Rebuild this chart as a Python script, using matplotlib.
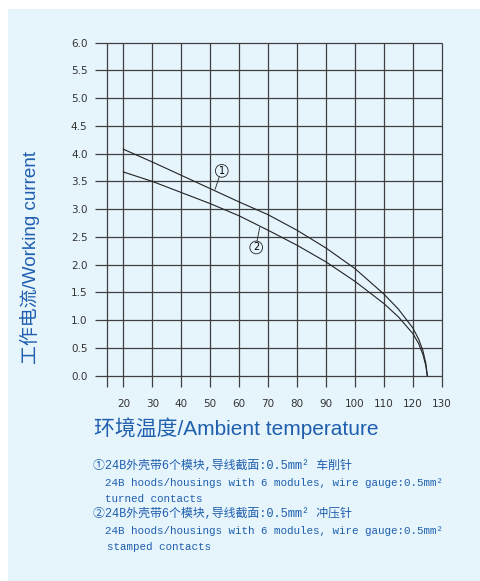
import matplotlib
matplotlib.use("Agg")
import matplotlib.pyplot as plt
from matplotlib.patches import Rectangle

# data
temp1 = [20, 30, 40, 50, 60, 70, 80, 90, 100, 110, 115, 120, 122, 123.5, 124.5, 125]
curr1 = [4.08, 3.85, 3.61, 3.37, 3.13, 2.90, 2.62, 2.30, 1.93, 1.47, 1.20, 0.86, 0.66, 0.45, 0.22, 0.0]
temp2 = [20, 30, 40, 50, 60, 70, 80, 90, 100, 110, 115, 120, 122, 123.5, 124.5, 125]
curr2 = [3.67, 3.50, 3.30, 3.10, 2.88, 2.62, 2.35, 2.05, 1.70, 1.30, 1.06, 0.76, 0.58, 0.38, 0.18, 0.0]

xticks = [20, 30, 40, 50, 60, 70, 80, 90, 100, 110, 120, 130]
yticks = [0.0, 0.5, 1.0, 1.5, 2.0, 2.5, 3.0, 3.5, 4.0, 4.5, 5.0, 5.5, 6.0]

blue = "#1f5fae"
grid_c = "#404040"
cjk = ["Liberation Sans", "Noto Sans CJK SC"]
mono = ["Liberation Mono", "Noto Sans CJK SC"]

fig = plt.figure(figsize=(4.81, 5.81), dpi=100)
fig.patches.append(Rectangle((8 / 481, 0), 1 - 8 / 481, 1 - 9 / 581,
                             transform=fig.transFigure, fc="#e6f4fc", ec="none", zorder=-5))

ax = fig.add_axes([0.1963, 0.3343, 0.7221, 0.5923])
ax.set_facecolor("none")
ax.set_xlim(10, 130)
ax.set_ylim(-0.2, 6.0)
for s in ax.spines.values():
    s.set_visible(False)

# grid
ax.hlines(yticks, 10.2, 130, color=grid_c, lw=0.9, clip_on=False)
ax.vlines([14.3] + xticks, -0.2, 6.0, color=grid_c, lw=0.9, clip_on=False)

# curves
ax.plot(temp1, curr1, color="#222222", lw=0.8)
ax.plot(temp2, curr2, color="#222222", lw=0.8)

# curve markers
ax.plot([53.2, 51.7], [3.59, 3.36], color="#222222", lw=0.6)
ax.text(54.0, 3.69, "1", fontsize=7, ha="center", va="center",
        bbox=dict(boxstyle="circle,pad=0.14", fc="#e6f4fc", ec="#222222", lw=0.6))
ax.plot([66.1, 67.1], [2.40, 2.67], color="#222222", lw=0.6)
ax.text(65.9, 2.31, "2", fontsize=7, ha="center", va="center",
        bbox=dict(boxstyle="circle,pad=0.14", fc="#e6f4fc", ec="#222222", lw=0.6))

ax.set_xticks(xticks)
ax.set_xticklabels([str(t) for t in xticks])
ax.set_yticks(yticks)
ax.set_yticklabels(["%.1f" % t for t in yticks])
ax.tick_params(length=0, labelsize=7.5, labelcolor="#333333")
ax.tick_params(axis="x", pad=9)
ax.tick_params(axis="y", pad=5)

fig.text(94 / 481, 1 - 428 / 581, "环境温度/Ambient temperature", fontsize=15,
         color=blue, family=cjk, ha="left", va="center")
fig.text(30 / 481, 1 - 257 / 581, "工作电流/Working current", rotation=90, fontsize=13.6,
         color=blue, family=cjk, ha="center", va="center")

# notes
lines = [
    (93, 466, "①24B外壳带6个模块,导线截面:0.5mm² 车削针", 8.6),
    (105, 483, "24B hoods/housings with 6 modules, wire gauge:0.5mm²", 7.8),
    (105, 499, "turned contacts", 7.8),
    (93, 514, "②24B外壳带6个模块,导线截面:0.5mm² 冲压针", 8.6),
    (105, 531, "24B hoods/housings with 6 modules, wire gauge:0.5mm²", 7.8),
    (107, 547, "stamped contacts", 7.8),
]
for x, y, t, fs in lines:
    fig.text(x / 481, 1 - y / 581, t, fontsize=fs, color=blue, family=mono,
             ha="left", va="center")

fig.savefig("out.png", dpi=100)
